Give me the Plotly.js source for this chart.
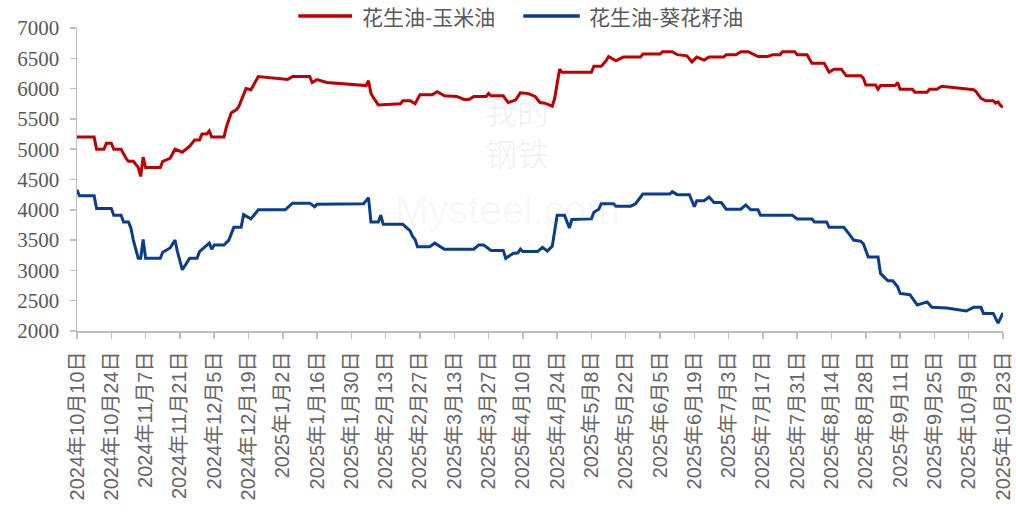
<!DOCTYPE html>
<html>
<head>
<meta charset="utf-8">
<script src="https://cdn.plot.ly/plotly-3.0.1.min.js"></script>
<style>html,body{margin:0;padding:0;background:#fff;}#chart{width:1016px;height:517px;}</style>
</head>
<body>
<div id="chart"></div>
<script>
const seriesNames = ["花生油-玉米油", "花生油-葵花籽油"];
const seriesColors = ["#C00000", "#0A3D8F"];

const redDates = ["2024-10-10","2024-10-17","2024-10-18","2024-10-21","2024-10-22","2024-10-24","2024-10-25","2024-10-28","2024-10-30","2024-10-31","2024-11-02","2024-11-04","2024-11-05","2024-11-06","2024-11-07","2024-11-13","2024-11-14","2024-11-17","2024-11-19","2024-11-22","2024-11-25","2024-11-27","2024-11-29","2024-11-30","2024-12-02","2024-12-03","2024-12-04","2024-12-09","2024-12-10","2024-12-12","2024-12-14","2024-12-15","2024-12-18","2024-12-20","2024-12-23","2025-01-04","2025-01-06","2025-01-13","2025-01-14","2025-01-16","2025-01-20","2025-01-28","2025-02-05","2025-02-06","2025-02-07","2025-02-08","2025-02-10","2025-02-19","2025-02-20","2025-02-23","2025-02-25","2025-02-27","2025-03-04","2025-03-06","2025-03-09","2025-03-14","2025-03-17","2025-03-19","2025-03-21","2025-03-26","2025-03-27","2025-03-28","2025-04-02","2025-04-04","2025-04-07","2025-04-09","2025-04-12","2025-04-15","2025-04-17","2025-04-19","2025-04-22","2025-04-23","2025-04-25","2025-04-26","2025-05-08","2025-05-09","2025-05-12","2025-05-14","2025-05-15","2025-05-18","2025-05-21","2025-05-28","2025-05-29","2025-06-05","2025-06-06","2025-06-10","2025-06-12","2025-06-16","2025-06-18","2025-06-20","2025-06-23","2025-06-25","2025-07-01","2025-07-02","2025-07-06","2025-07-08","2025-07-11","2025-07-15","2025-07-19","2025-07-21","2025-07-24","2025-07-25","2025-07-30","2025-07-31","2025-08-04","2025-08-06","2025-08-11","2025-08-13","2025-08-15","2025-08-18","2025-08-20","2025-08-26","2025-08-27","2025-08-28","2025-09-01","2025-09-02","2025-09-03","2025-09-09","2025-09-10","2025-09-11","2025-09-16","2025-09-17","2025-09-22","2025-09-23","2025-09-26","2025-09-28","2025-10-11","2025-10-12","2025-10-14","2025-10-16","2025-10-19","2025-10-20","2025-10-21","2025-10-22","2025-10-23"];
const redValues = [5200,5200,5000,5000,5100,5100,5000,5000,4850,4800,4800,4700,4550,4870,4700,4700,4800,4850,5000,4950,5050,5150,5150,5250,5250,5300,5200,5200,5370,5600,5650,5700,6000,5980,6200,6150,6200,6200,6100,6150,6100,6080,6050,6130,5920,5850,5730,5750,5800,5800,5750,5900,5900,5950,5880,5870,5820,5820,5870,5870,5920,5880,5880,5770,5810,5930,5920,5870,5770,5760,5710,5840,6320,6270,6270,6370,6370,6460,6530,6460,6520,6520,6570,6570,6610,6610,6560,6540,6440,6520,6470,6520,6520,6560,6560,6610,6610,6530,6530,6560,6560,6610,6610,6560,6560,6420,6420,6270,6320,6320,6210,6210,6170,6060,6060,5990,6050,6050,6100,5990,5990,5940,5940,5990,5990,6040,5980,5950,5840,5800,5800,5760,5780,5720,5690];

const blueDates = ["2024-10-10","2024-10-11","2024-10-17","2024-10-18","2024-10-24","2024-10-25","2024-10-28","2024-10-29","2024-10-31","2024-11-01","2024-11-02","2024-11-04","2024-11-05","2024-11-06","2024-11-07","2024-11-13","2024-11-14","2024-11-17","2024-11-19","2024-11-20","2024-11-22","2024-11-25","2024-11-28","2024-11-29","2024-12-01","2024-12-03","2024-12-04","2024-12-05","2024-12-09","2024-12-11","2024-12-13","2024-12-16","2024-12-17","2024-12-20","2024-12-23","2025-01-03","2025-01-06","2025-01-13","2025-01-15","2025-01-16","2025-02-04","2025-02-05","2025-02-06","2025-02-07","2025-02-10","2025-02-11","2025-02-12","2025-02-20","2025-02-23","2025-02-24","2025-02-25","2025-02-26","2025-03-03","2025-03-05","2025-03-09","2025-03-21","2025-03-23","2025-03-25","2025-03-28","2025-04-02","2025-04-03","2025-04-06","2025-04-08","2025-04-09","2025-04-10","2025-04-16","2025-04-18","2025-04-20","2025-04-22","2025-04-24","2025-04-27","2025-04-29","2025-04-30","2025-05-08","2025-05-09","2025-05-11","2025-05-12","2025-05-17","2025-05-18","2025-05-24","2025-05-26","2025-05-29","2025-06-09","2025-06-10","2025-06-12","2025-06-17","2025-06-19","2025-06-20","2025-06-23","2025-06-25","2025-06-27","2025-06-30","2025-07-02","2025-07-08","2025-07-10","2025-07-12","2025-07-15","2025-07-16","2025-07-29","2025-07-31","2025-08-06","2025-08-07","2025-08-12","2025-08-13","2025-08-19","2025-08-21","2025-08-23","2025-08-26","2025-08-27","2025-08-29","2025-09-02","2025-09-03","2025-09-06","2025-09-08","2025-09-10","2025-09-11","2025-09-15","2025-09-18","2025-09-22","2025-09-24","2025-09-30","2025-10-08","2025-10-11","2025-10-14","2025-10-15","2025-10-19","2025-10-20","2025-10-21","2025-10-23"];
const blueValues = [4330,4230,4230,4020,4020,3910,3910,3800,3800,3700,3500,3200,3200,3510,3200,3200,3300,3370,3500,3310,3010,3200,3200,3310,3380,3450,3350,3420,3420,3500,3710,3710,3920,3850,4000,4000,4110,4110,4050,4090,4100,4160,4200,3800,3800,3910,3760,3760,3650,3560,3510,3390,3390,3450,3350,3350,3420,3420,3330,3330,3200,3280,3290,3350,3310,3310,3380,3320,3400,3910,3910,3700,3840,3850,3960,4010,4100,4100,4060,4060,4100,4260,4260,4300,4250,4250,4050,4150,4150,4210,4120,4120,4010,4010,4080,4000,4000,3910,3910,3850,3850,3800,3800,3710,3710,3610,3500,3480,3440,3220,3220,2950,2830,2830,2730,2620,2600,2430,2480,2390,2380,2330,2390,2390,2290,2290,2210,2130,2300];

const tickDates = ["2024-10-10","2024-10-24","2024-11-07","2024-11-21","2024-12-05","2024-12-19","2025-01-02","2025-01-16","2025-01-30","2025-02-13","2025-02-27","2025-03-13","2025-03-27","2025-04-10","2025-04-24","2025-05-08","2025-05-22","2025-06-05","2025-06-19","2025-07-03","2025-07-17","2025-07-31","2025-08-14","2025-08-28","2025-09-11","2025-09-25","2025-10-09","2025-10-23"];
const tickLabels = ["2024年10月10日","2024年10月24日","2024年11月7日","2024年11月21日","2024年12月5日","2024年12月19日","2025年1月2日","2025年1月16日","2025年1月30日","2025年2月13日","2025年2月27日","2025年3月13日","2025年3月27日","2025年4月10日","2025年4月24日","2025年5月8日","2025年5月22日","2025年6月5日","2025年6月19日","2025年7月3日","2025年7月17日","2025年7月31日","2025年8月14日","2025年8月28日","2025年9月11日","2025年9月25日","2025年10月9日","2025年10月23日"];
const yTicks = [2000,2500,3000,3500,4000,4500,5000,5500,6000,6500,7000];

const traces = [
  {x: redDates, y: redValues, name: seriesNames[0], type: "scatter", mode: "lines",
   line: {color: seriesColors[0], width: 3}, showlegend: false},
  {x: blueDates, y: blueValues, name: seriesNames[1], type: "scatter", mode: "lines",
   line: {color: seriesColors[1], width: 3}, showlegend: false}
];

// custom legend (longer line samples, as in the reference)
const legendY = 1.04;
const legendItems = [
  {x0: 0.239, x1: 0.297, tx: 0.306},
  {x0: 0.482, x1: 0.543, tx: 0.551}
];
const shapes = legendItems.map((it, i) => ({
  type: "line", xref: "paper", yref: "paper", x0: it.x0, x1: it.x1, y0: legendY, y1: legendY,
  line: {color: seriesColors[i], width: 3.5}
}));
const legendAnn = legendItems.map((it, i) => ({
  xref: "paper", yref: "paper", x: it.tx, y: legendY, xanchor: "left", yanchor: "middle",
  text: seriesNames[i], showarrow: false,
  font: {family: "Noto Sans CJK SC", size: 21, color: "#595959"}
}));

const layout = {
  width: 1016, height: 517,
  paper_bgcolor: "#ffffff", plot_bgcolor: "#ffffff",
  margin: {l: 77, r: 13, t: 28, b: 186, autoexpand: false},
  showlegend: false,
  xaxis: {
    type: "date", range: ["2024-10-10", "2025-10-23"],
    tickmode: "array", tickvals: tickDates, ticktext: tickLabels, tickangle: -90,
    showgrid: false, zeroline: false, showline: true, linecolor: "#BFBFBF", linewidth: 1.5,
    ticks: "outside", ticklen: 6, tickcolor: "#BFBFBF", tickwidth: 1.5,
    tickfont: {family: "Liberation Sans, Noto Sans CJK SC", size: 20, color: "#666666"},
    ticklabelstandoff: 5,
    fixedrange: true
  },
  yaxis: {
    range: [2000, 7000], tickmode: "array", tickvals: yTicks,
    showgrid: false, zeroline: false, showline: true, linecolor: "#BFBFBF", linewidth: 1.5,
    ticks: "outside", ticklen: 6, tickcolor: "#BFBFBF", tickwidth: 1.5,
    tickfont: {family: "Liberation Serif", size: 21, color: "#595959"},
    ticklabelstandoff: 6,
    fixedrange: true
  },
  shapes: shapes,
  annotations: legendAnn.concat([
    {xref: "paper", yref: "paper", x: 0.475, y: 0.66, text: "我的<br>钢铁", showarrow: false,
     font: {family: "Noto Sans CJK SC", size: 32, color: "rgba(120,110,160,0.09)"}},
    {xref: "paper", yref: "paper", x: 0.465, y: 0.40, text: "Mysteel.com", showarrow: false,
     font: {family: "Liberation Sans", size: 40, color: "rgba(150,150,150,0.08)"}}
  ])
};

Plotly.newPlot("chart", traces, layout, {displayModeBar: false, staticPlot: true});
</script>
</body>
</html>
